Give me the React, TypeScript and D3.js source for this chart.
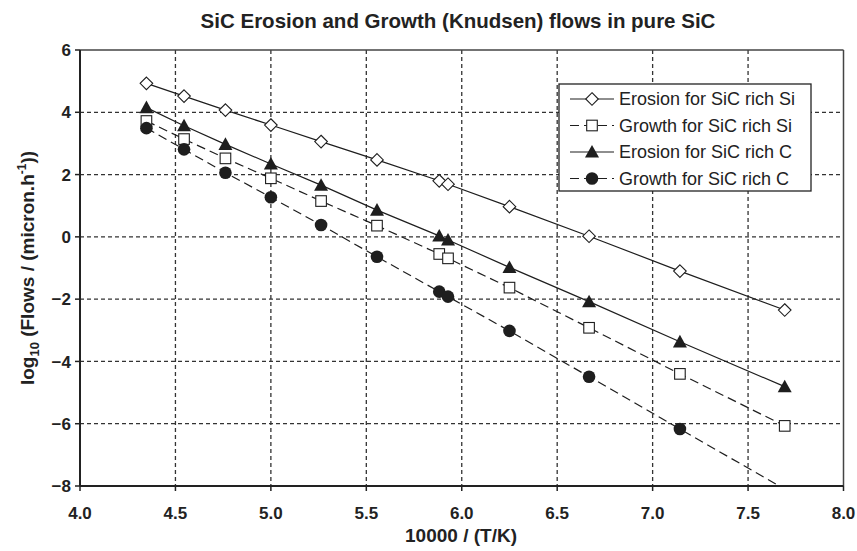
import React from "react";
import * as d3 from "d3";

const xValues = [4.348, 4.545, 4.762, 5.0, 5.263, 5.556, 5.882, 5.928, 6.25, 6.667, 7.143, 7.692];
const erosionSi = [4.93, 4.52, 4.07, 3.59, 3.06, 2.47, 1.8, 1.69, 0.97, 0.02, -1.1, -2.35];
const growthSi = [3.72, 3.14, 2.52, 1.88, 1.15, 0.36, -0.55, -0.69, -1.63, -2.92, -4.4, -6.07];
const erosionC = [4.15, 3.57, 2.97, 2.34, 1.66, 0.86, 0.03, -0.1, -0.98, -2.08, -3.37, -4.81];
const growthC = [3.49, 2.81, 2.06, 1.27, 0.38, -0.64, -1.76, -1.92, -3.02, -4.49, -6.17, -8.1];

const xTicks = [4.0, 4.5, 5.0, 5.5, 6.0, 6.5, 7.0, 7.5, 8.0];
const yTicks = [-8, -6, -4, -2, 0, 2, 4, 6];

const seriesNames = [
  "Erosion for SiC rich Si",
  "Growth for SiC rich Si",
  "Erosion for SiC rich C",
  "Growth for SiC rich C",
];
const seriesValues = [erosionSi, growthSi, erosionC, growthC];
const seriesMarkers = ["diamond", "square", "triangle", "circle"];
const seriesDashed = [false, true, false, true];

const W = 857;
const H = 551;
const L = 80;
const R = 843.5;
const T = 50;
const B = 486;
const INK = "#1e1e1e";
const FONT = "'Liberation Sans', Arial, sans-serif";

function Marker({ kind, x, y }: { kind: string; x: number; y: number }) {
  if (kind === "diamond") {
    const s = 6.3;
    return (
      <path
        d={`M${x},${y - s}L${x + s},${y}L${x},${y + s}L${x - s},${y}Z`}
        fill="#fff"
        stroke={INK}
        strokeWidth={1.1}
      />
    );
  }
  if (kind === "square") {
    const s = 5.3;
    return <rect x={x - s} y={y - s} width={2 * s} height={2 * s} fill="#fff" stroke={INK} strokeWidth={1.1} />;
  }
  if (kind === "triangle") {
    const s = 7;
    return <path d={`M${x},${y - s}L${x + s},${y + s * 0.8}L${x - s},${y + s * 0.8}Z`} fill={INK} />;
  }
  return <circle cx={x} cy={y} r={6.3} fill={INK} />;
}

export default function App() {
  const x = d3.scaleLinear().domain([4, 8]).range([L, R]);
  const y = d3.scaleLinear().domain([-8, 6]).range([B, T]);
  const line = d3
    .line<[number, number]>()
    .x((d) => x(d[0]))
    .y((d) => y(d[1]));

  const legX = 559;
  const legY = 84;
  const legW = 252;
  const legH = 107;
  const rowH = 26.5;

  return (
    <svg
      width={W}
      height={H}
      style={{ position: "absolute", left: 0, top: 0, display: "block", background: "#fff" }}
      fontFamily={FONT}
    >
      <defs>
        <clipPath id="plotClip">
          <rect x={L} y={T} width={R - L} height={B - T} />
        </clipPath>
      </defs>
      <rect width={W} height={H} fill="#fff" />
      <text x={458} y={28} textAnchor="middle" fontSize={20.5} fontWeight="bold" fill="#222">
        SiC Erosion and Growth (Knudsen) flows in pure SiC
      </text>

      {/* grid */}
      {xTicks.slice(1, -1).map((t) => (
        <line key={"gx" + t} x1={x(t)} x2={x(t)} y1={T} y2={B} stroke="#333" strokeWidth={1.3} strokeDasharray="4,3" />
      ))}
      {yTicks.slice(1, -1).map((t) => (
        <line key={"gy" + t} x1={L} x2={R} y1={y(t)} y2={y(t)} stroke="#333" strokeWidth={1.3} strokeDasharray="4,3" />
      ))}

      {/* frame */}
      <line x1={L} x2={R} y1={T} y2={T} stroke="#444" strokeWidth={1.5} />
      <line x1={R} x2={R} y1={T} y2={B} stroke="#444" strokeWidth={1.5} />
      <line x1={L} x2={L} y1={T} y2={B} stroke="#222" strokeWidth={2} />
      <line x1={L} x2={R} y1={B} y2={B} stroke="#222" strokeWidth={2.2} />

      {/* ticks */}
      {yTicks.map((t) => (
        <g key={"ty" + t}>
          <line x1={L - 5} x2={L} y1={y(t)} y2={y(t)} stroke="#222" strokeWidth={1.5} />
          <text x={71} y={y(t)} dy="0.36em" textAnchor="end" fontSize={17} fontWeight="bold" fill="#222">
            {d3.format("d")(t)}
          </text>
        </g>
      ))}
      {xTicks.map((t) => (
        <g key={"tx" + t}>
          <line x1={x(t)} x2={x(t)} y1={B} y2={B + 5} stroke="#222" strokeWidth={1.5} />
          <text x={x(t)} y={519} textAnchor="middle" fontSize={17} fontWeight="bold" fill="#222">
            {d3.format(".1f")(t)}
          </text>
        </g>
      ))}

      {/* axis titles */}
      <text x={461} y={542} textAnchor="middle" fontSize={19} fontWeight="bold" fill="#222">
        10000 / (T/K)
      </text>
      <text
        transform={`translate(34,${(T + B) / 2}) rotate(-90)`}
        textAnchor="middle"
        fontSize={19}
        fontWeight="bold"
        fill="#222"
      >
        log
        <tspan fontSize={13} dy={5}>10</tspan>
        <tspan dy={-5}> (Flows / (micron.h</tspan>
        <tspan fontSize={12} dy={-8}>-1</tspan>
        <tspan dy={8}>))</tspan>
      </text>

      {/* series */}
      <g clipPath="url(#plotClip)">
        {seriesValues.map((vals, i) => (
          <path
            key={"l" + i}
            d={line(vals.map((v, j) => [xValues[j], v] as [number, number])) || ""}
            fill="none"
            stroke={INK}
            strokeWidth={1.2}
            strokeDasharray={seriesDashed[i] ? "9,5" : undefined}
          />
        ))}
      </g>
      {seriesValues.map((vals, i) => (
        <g key={"m" + i}>
          {vals.map((v, j) =>
            v >= -8 && v <= 6 ? <Marker key={j} kind={seriesMarkers[i]} x={x(xValues[j])} y={y(v)} /> : null
          )}
        </g>
      ))}

      {/* legend */}
      <rect x={legX} y={legY} width={legW} height={legH} fill="#fff" stroke="#222" strokeWidth={1.3} />
      {seriesNames.map((name, i) => {
        const cy = legY + 15 + i * rowH;
        return (
          <g key={"lg" + i}>
            <line
              x1={570}
              x2={614}
              y1={cy}
              y2={cy}
              stroke={INK}
              strokeWidth={1.2}
              strokeDasharray={seriesDashed[i] ? "9,5" : undefined}
            />
            <Marker kind={seriesMarkers[i]} x={592} y={cy} />
            <text x={619} y={cy} dy="0.36em" fontSize={18} fill="#222">
              {name}
            </text>
          </g>
        );
      })}
    </svg>
  );
}
